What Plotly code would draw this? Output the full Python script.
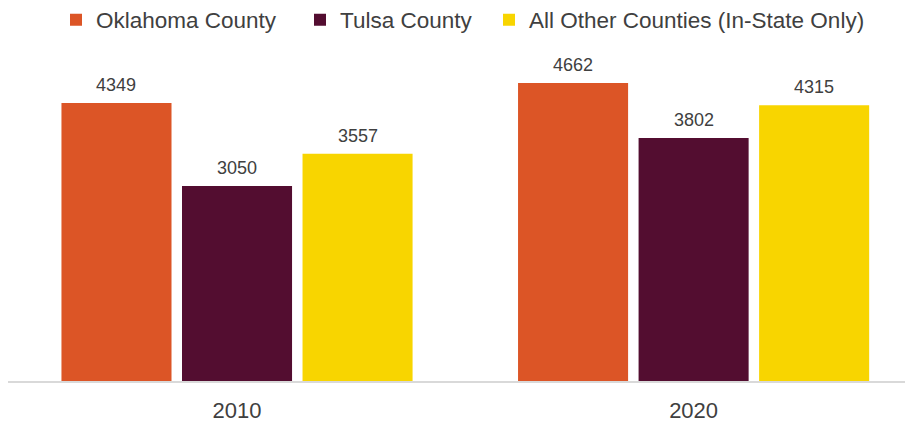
import plotly.graph_objects as go

years = ["2010", "2020"]
series_names = ["Oklahoma County", "Tulsa County", "All Other Counties (In-State Only)"]
oklahoma = [4349, 4662]
tulsa = [3050, 3802]
other = [3557, 4315]
colors = ["#DC5526", "#530D30", "#F8D500"]

FONT = "Liberation Sans, Arial, Helvetica, sans-serif"
BARGAP = 0.208
W, H = 905, 414
legend_x = [48, 292, 481]

fig = go.Figure()
all_vals = [oklahoma, tulsa, other]
n = len(all_vals)
slot = (1 - BARGAP) / n
for k, (name, vals, col) in enumerate(zip(series_names, all_vals, colors)):
    lg = "legend" if k == 0 else f"legend{k+1}"
    fig.add_trace(go.Bar(
        x=years, y=vals, name=name, marker_color=col, marker_line_width=0,
        legend=lg,
    ))
    for i, v in enumerate(vals):
        fig.add_annotation(
            x=i + (k - (n - 1) / 2) * slot, y=v, xref="x", yref="y",
            text=str(v), showarrow=False, yanchor="bottom", yshift=6,
            font=dict(size=18, color="#404040", family=FONT),
        )

legend_common = dict(orientation="h", xref="container", yref="container",
                     y=1 - 12 / H, xanchor="left", yanchor="middle",
                     font=dict(size=22.5, color="#404040", family=FONT),
                     itemwidth=30, bgcolor="rgba(0,0,0,0)")

fig.update_layout(
    width=W, height=H,
    margin=dict(l=0, r=8, t=52, b=41),
    plot_bgcolor="white", paper_bgcolor="white",
    barmode="group", bargap=BARGAP, bargroupgap=0.087,
    font=dict(family=FONT, color="#404040"),
    showlegend=True,
    legend=dict(x=legend_x[0] / W, **legend_common),
    legend2=dict(x=legend_x[1] / W, **legend_common),
    legend3=dict(x=legend_x[2] / W, **legend_common),
    xaxis=dict(range=[-0.5016, 1.463], showline=True, linecolor="#d9d9d9", linewidth=1.5,
               showgrid=False, ticks="", tickfont=dict(size=22, color="#404040"),
               ticklabelstandoff=9, automargin=False),
    yaxis=dict(range=[0, 5022], visible=False, showgrid=False, automargin=False),
)

fig.write_html("out.html")
